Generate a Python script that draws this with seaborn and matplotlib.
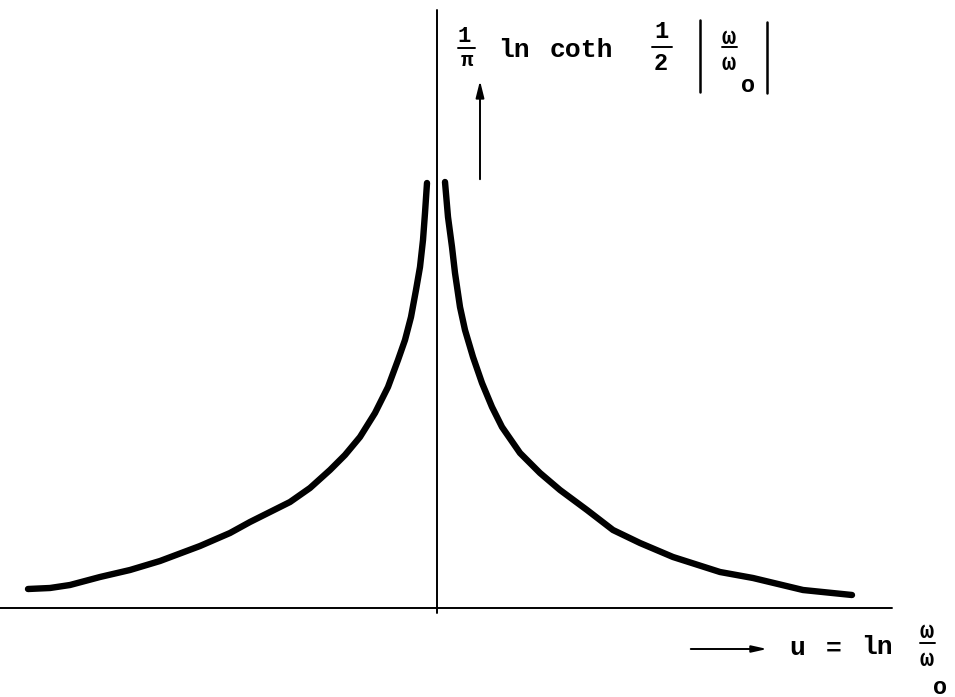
import numpy as np
import pandas as pd
import matplotlib
matplotlib.use("Agg")
import matplotlib.pyplot as plt
from matplotlib.lines import Line2D
from matplotlib.patches import FancyArrowPatch
import seaborn as sns


# =========================
# DATA
# =========================

# left branch, u < 0
U_LEFT = [-4.09, -3.87, -3.67, -3.37, -3.07, -2.77, -2.37, -2.07, -1.87, -1.67,
          -1.47, -1.27, -1.07, -0.92, -0.77, -0.62, -0.49, -0.39, -0.32, -0.26,
          -0.21, -0.17, -0.14, -0.12, -0.10]
F_LEFT = [0.19, 0.20, 0.23, 0.31, 0.38, 0.47, 0.62, 0.75, 0.86, 0.96,
          1.06, 1.20, 1.38, 1.53, 1.71, 1.95, 2.21, 2.48, 2.68, 2.91,
          3.18, 3.41, 3.68, 3.95, 4.25]

# right branch, u > 0
U_RIGHT = [0.08, 0.11, 0.15, 0.18, 0.23, 0.28, 0.36, 0.45, 0.55, 0.65,
           0.83, 1.03, 1.23, 1.50, 1.76, 2.03, 2.36, 2.83, 3.16, 3.66, 4.15]
F_RIGHT = [4.26, 3.91, 3.61, 3.35, 3.01, 2.78, 2.51, 2.25, 2.01, 1.81,
           1.55, 1.35, 1.18, 0.98, 0.78, 0.65, 0.51, 0.36, 0.30, 0.18, 0.13]

OUTPUT_FILE = "out.png"
W, H = 955, 697
FONT = ["Liberation Mono", "DejaVu Sans Mono"]


# =========================
# PLOT
# =========================

sns.set_theme(style="white")
plt.rcParams["font.family"] = FONT

fig = plt.figure(figsize=(W / 100, H / 100), dpi=100)
ax = fig.add_axes([0, 0, 1, 1])
ax.set_xlim(-4.37, 5.18)
ax.set_ylim(-0.89, 6.08)
ax.axis("off")

df_left = pd.DataFrame({"u": U_LEFT, "f": F_LEFT})
df_right = pd.DataFrame({"u": U_RIGHT, "f": F_RIGHT})

for d in (df_left, df_right):
    sns.lineplot(data=d, x="u", y="f", ax=ax, color="black", lw=4.6,
                 sort=False, estimator=None, solid_capstyle="round",
                 solid_joinstyle="round")

# axes of the sketch
ax.plot([-4.37, 4.55], [0, 0], color="black", lw=1.4)
ax.plot([0, 0], [-0.05, 5.98], color="black", lw=1.4)


def fx(x):
    return x / W


def fy(y):
    return 1 - y / H


def txt(x, y, s, size=19):
    fig.text(fx(x), fy(y), s, ha="center", va="center", fontsize=size,
             fontweight="bold", family=FONT, color="black")


def seg(x0, y0, x1, y1, lw=1.4):
    fig.add_artist(Line2D([fx(x0), fx(x1)], [fy(y0), fy(y1)],
                          transform=fig.transFigure, color="black", lw=lw))


# top label: 1/pi ln coth 1/2 |w/w_o|
txt(464, 36, "1", 16)
seg(458, 48, 475, 48)
txt(467, 61, "π", 15)
txt(514, 50, "ln")
txt(581, 50, "coth")
txt(661, 32, "1", 17)
seg(652, 47, 672, 47)
txt(661, 63, "2", 17)
seg(700, 20, 700, 92, lw=1.8)
txt(729, 37, "ω", 17)
seg(722, 47, 737, 47)
txt(729, 63, "ω", 17)
txt(748, 86, "o", 17)
seg(767, 22, 767, 93, lw=1.8)

# vertical arrow
fig.add_artist(FancyArrowPatch(
    (fx(480), fy(182)), (fx(480), fy(78)), transform=fig.transFigure,
    arrowstyle="-|>,head_length=10,head_width=2.5", color="black", lw=1.4))

# bottom label: --> u = ln w/w_o
fig.add_artist(FancyArrowPatch(
    (fx(688), fy(649)), (fx(770), fy(649)), transform=fig.transFigure,
    arrowstyle="-|>,head_length=9,head_width=2", color="black", lw=1.4))
txt(797, 648, "u")
txt(834, 649, "=")
txt(877, 647, "ln")
txt(927, 632, "ω", 17)
seg(920, 643, 935, 643)
txt(927, 659, "ω", 17)
txt(940, 687, "o", 17)

plt.savefig(OUTPUT_FILE, dpi=100, facecolor="white")
print(f"Saved: {OUTPUT_FILE}")
